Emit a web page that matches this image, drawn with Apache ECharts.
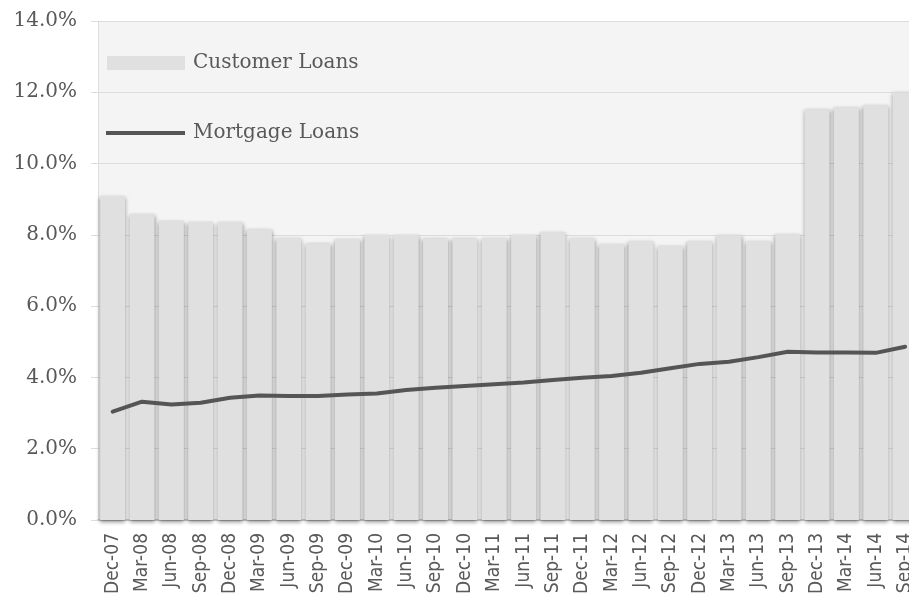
<!DOCTYPE html>
<html>
<head>
<meta charset="utf-8">
<script src="https://cdn.jsdelivr.net/npm/echarts@6/dist/echarts.min.js"></script>
<style>
html,body{margin:0;padding:0;background:#ffffff;overflow:hidden;}
#chart{width:909px;height:594px;}
</style>
</head>
<body>
<div id="chart"></div>
<script>
var categories = ['Dec-07','Mar-08','Jun-08','Sep-08','Dec-08','Mar-09','Jun-09','Sep-09','Dec-09','Mar-10','Jun-10','Sep-10','Dec-10','Mar-11','Jun-11','Sep-11','Dec-11','Mar-12','Jun-12','Sep-12','Dec-12','Mar-13','Jun-13','Sep-13','Dec-13','Mar-14','Jun-14','Sep-14'];
var customerLoans = [9.09,8.59,8.40,8.37,8.37,8.16,7.92,7.76,7.88,8.00,8.00,7.90,7.90,7.92,8.00,8.07,7.92,7.74,7.83,7.70,7.83,7.99,7.83,8.02,11.52,11.58,11.64,12.00];
var mortgageLoans = [3.04,3.32,3.24,3.29,3.43,3.49,3.48,3.48,3.52,3.55,3.65,3.71,3.76,3.81,3.86,3.93,3.99,4.04,4.13,4.26,4.38,4.44,4.57,4.72,4.70,4.70,4.69,4.86];
var yTicks = {min:0, max:14, interval:2};

var chart = echarts.init(document.getElementById('chart'), null, {renderer:'canvas'});
var labelColor = '#595959';
chart.setOption({
  animation:false,
  backgroundColor:'#ffffff',
  grid:{left:98, top:21, width:28*29.35, height:499, show:true, backgroundColor:'#f4f4f4', borderWidth:0, containLabel:false, outerBoundsMode:'none'},
  legend:[
    {data:['Customer Loans'], left:107, top:53, padding:0, orient:'vertical', itemWidth:78, itemHeight:14, icon:'rect',
     itemStyle:{color:'#e0e0e0', shadowBlur:0, shadowOffsetY:0, shadowColor:'transparent'},
     textStyle:{fontFamily:'DejaVu Serif', fontSize:20, color:labelColor, padding:[3,0,0,3]}},
    {data:['Mortgage Loans'], left:106, top:123, padding:0, orient:'vertical', itemWidth:79, itemHeight:4, icon:'rect',
     itemStyle:{color:'#555555'},
     textStyle:{fontFamily:'DejaVu Serif', fontSize:20, color:labelColor, padding:[3,0,0,3]}}
  ],
  xAxis:{
    type:'category', data:categories, boundaryGap:true,
    axisLine:{show:true, lineStyle:{color:'#c8c8c8', width:2}},
    axisTick:{show:false},
    axisLabel:{interval:0, rotate:90, margin:13, fontFamily:"'DejaVu Sans Condensed', 'DejaVu Sans', sans-serif", fontSize:19, color:labelColor},
    splitLine:{show:false}
  },
  yAxis:{
    type:'value', min:yTicks.min, max:yTicks.max, interval:yTicks.interval,
    axisLine:{show:true, lineStyle:{color:'#dddddd', width:1}},
    axisTick:{show:true, length:7, lineStyle:{color:'#dddddd'}},
    axisLabel:{margin:21, fontFamily:'DejaVu Serif', fontSize:20, color:labelColor, padding:[4,0,0,0], formatter:function(v){return v.toFixed(1)+'%';}},
    splitLine:{show:true, lineStyle:{color:'#dcdcdc', width:1}}
  },
  series:[
    {name:'Customer Loans', type:'bar', data:customerLoans, barWidth:25,
     itemStyle:{color:'#e0e0e0', shadowColor:'rgba(0,0,0,0.45)', shadowBlur:4, shadowOffsetX:0, shadowOffsetY:2}},
    {name:'Mortgage Loans', type:'line', data:mortgageLoans, symbol:'none', smooth:false,
     lineStyle:{color:'#555555', width:4, cap:'round', join:'round'}, itemStyle:{color:'#555555'}}
  ]
});
</script>
</body>
</html>
